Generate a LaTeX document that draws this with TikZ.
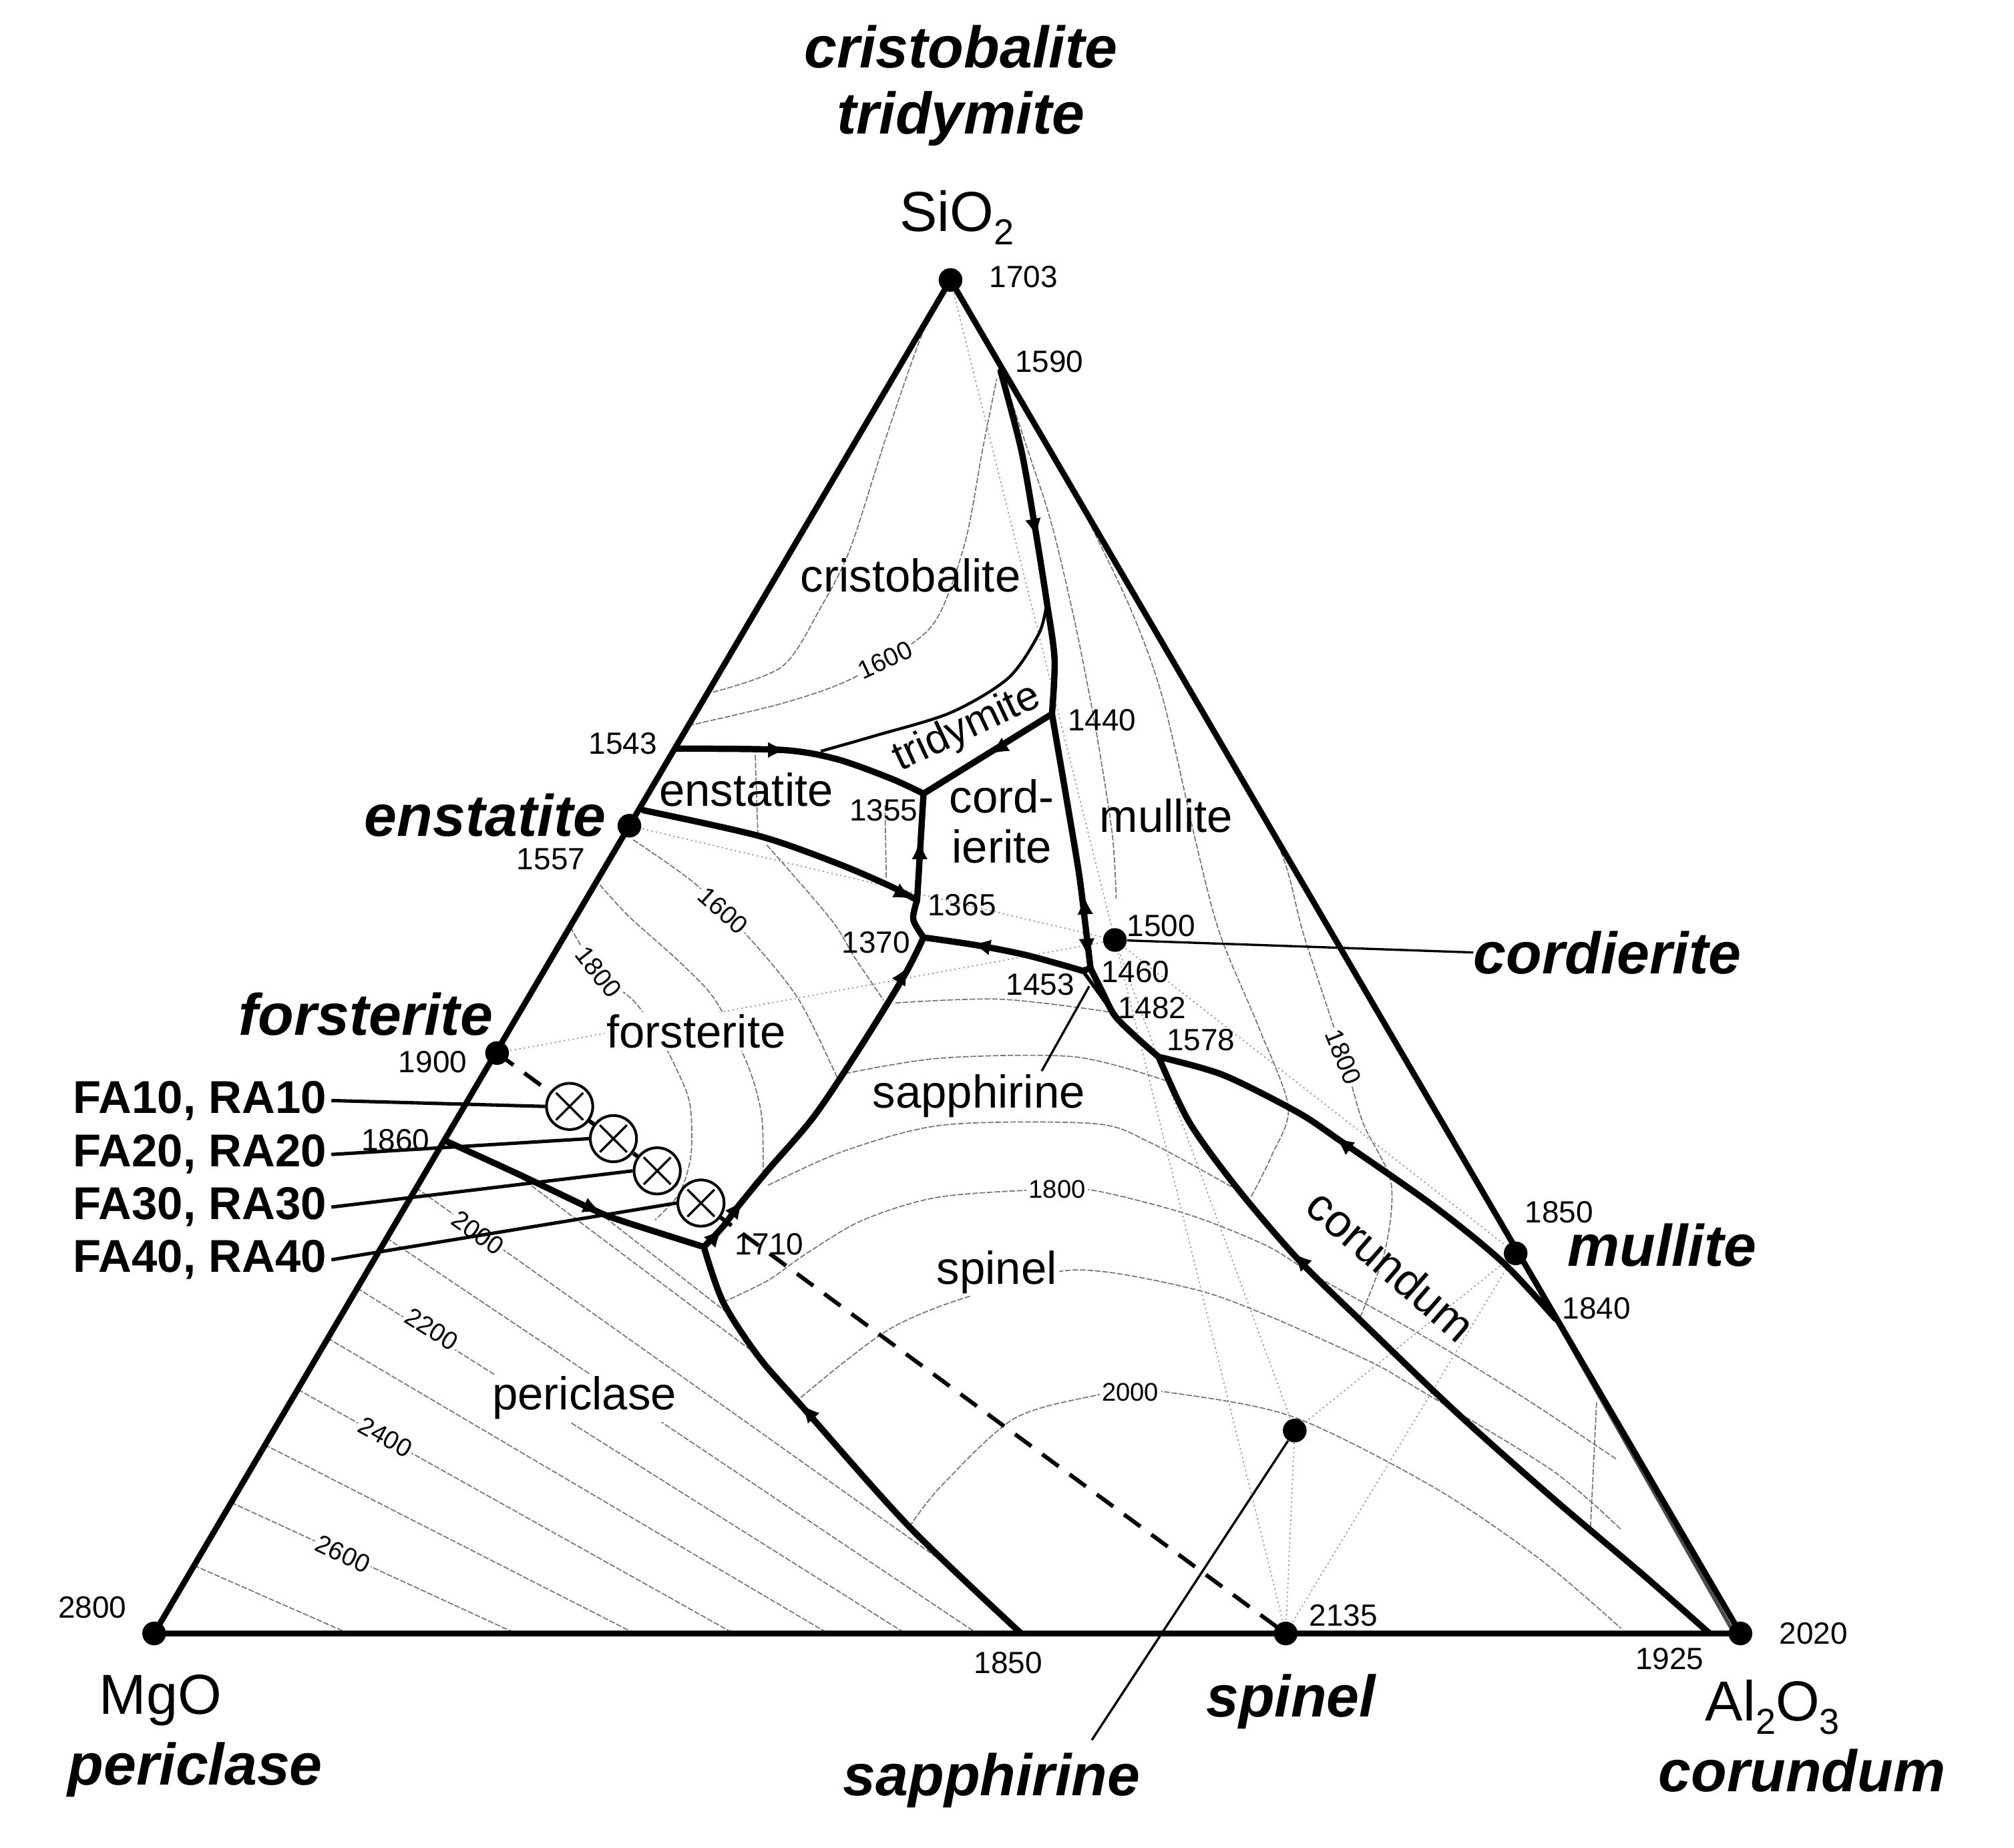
\documentclass[tikz,border=0pt]{standalone}
\usepackage{fontspec}
\setmainfont{Liberation Sans}
\usetikzlibrary{arrows.meta, calc}
\newcommand{\chemsub}[1]{\raisebox{-6pt}{\fontsize{16}{16}\selectfont #1}}

\begin{document}
\begin{tikzpicture}[
    x=0.02cm, y=-0.02cm,
    % Line styles
    tri/.style={line width=2.6pt, line join=round},
    bnd/.style={line width=2.8pt, line join=round, line cap=round},
    iso/.style={black!55, line width=0.5pt, dash pattern=on 2.5pt off 0.8pt},
    cjoin/.style={black!45, line width=0.5pt, dash pattern=on 0.6pt off 1.4pt},
    lead/.style={line width=1.5pt},
    arr/.style={line width=0.6pt, -{Latex[length=8pt,width=7pt]}},
    % Node styles
    sdot/.style={circle, fill=black, inner sep=0pt, minimum size=10.5pt},
    smp/.style={circle, draw, line width=1.2pt, fill=white, inner sep=0pt, minimum size=20.5pt,
        path picture={\draw[line width=1pt]
            ([shift={(-6pt,-6pt)}]path picture bounding box.center) -- ++(12pt,12pt)
            ([shift={(-6pt,6pt)}]path picture bounding box.center) -- ++(12pt,-12pt);}},
    tlab/.style={font=\fontsize{13.6}{14}\selectfont, inner sep=0pt},
    ilab/.style={font=\fontsize{11.3}{12}\selectfont, fill=white, inner sep=1pt},
    rlab/.style={font=\fontsize{20.4}{22}\selectfont, inner sep=1pt},
    plab/.style={font=\fontsize{26}{28}\selectfont\bfseries\itshape, inner sep=0pt},
    clab/.style={font=\fontsize{25}{27}\selectfont, inner sep=0pt},
    falab/.style={font=\fontsize{20.4}{22}\selectfont\bfseries, anchor=east, inner sep=2pt},
]

\path[fill=white] (0,0) rectangle (1568,1439);
\useasboundingbox (0,0) rectangle (1568,1439);

% ============================================================================
% POINTS
% ============================================================================
\coordinate (S) at (740,218);
\coordinate (M) at (120,1272);
\coordinate (A) at (1355,1272);
\coordinate (en) at (490,643);
\coordinate (fo) at (387,820);
\coordinate (cord) at (868,732);
\coordinate (mul) at (1180,976);
\coordinate (sp) at (1001,1272);
\coordinate (sapph) at (1008,1114);

\coordinate (p1543) at (527,583);
\coordinate (p1590) at (779,289);
\coordinate (p1440) at (819,556);
\coordinate (p1355) at (719,618);
\coordinate (p1365) at (714,701);
\coordinate (p1370) at (719,730);
\coordinate (p1453) at (843,756);
\coordinate (p1460) at (849,754);
\coordinate (p1482) at (868,791);
\coordinate (p1578) at (902,823);
\coordinate (p1860) at (346,888);
\coordinate (p1710) at (548,971);
\coordinate (p1850) at (795,1272);
\coordinate (p1925) at (1331,1272);
\coordinate (p1840) at (1211,1027);
\coordinate (penb) at (501,631);

% ============================================================================
% ISOTHERMS AND JOINS
% ============================================================================
% periclase field
\begin{scope}
\clip (M) -- (p1860) -- (488,952) -- (p1710) -- (563,1014) -- (591,1057) -- (626,1097) -- (708,1189) -- (p1850) -- cycle;
\foreach \xs/\ys/\sl in {151/1219/0.44, 180/1170/0.46, 206/1125/0.51, 232/1082/0.56, 255/1042/0.59,
    278/1003/0.63, 301/964/0.67, 324/925/0.71, 400/913/0.75, 462/941/0.78}
    \draw[iso] (\xs,\ys) -- ++(700,{700*\sl});
\end{scope}

% silica and enstatite fields
\draw[iso] plot[smooth] coordinates {(536,565) (608,548) (660,530) (713,499) (733,475) (752,420) (765,350) (776,295)};
\draw[iso] plot[smooth] coordinates {(555,539) (609,519) (639,473) (662,427) (690,340) (718,260) (736,228)};
\draw[iso] (588,588) -- (590,649);
\draw[iso] (689,627) -- (690,684);

% forsterite field
\draw[iso] plot[smooth] coordinates {(493,654) (541,688) (583,730) (621,777) (649,833) (653,842)};
\draw[iso] plot[smooth] coordinates {(467,689) (490,714) (529,749) (557,779) (582,829) (593,869) (594,915)};
\draw[iso] plot[smooth] coordinates {(444,722) (466,757) (493,779) (512,805) (525,829) (537,859)
    (538,899) (529,929) (510,950)};
\draw[iso] plot[smooth] coordinates {(597,658) (647,716) (665,745) (688,779)};

% spinel field
\draw[iso] plot[smooth] coordinates {(697,781) (777,778) (857,787) (p1482)};
\draw[iso] plot[smooth] coordinates {(658,836) (732,824) (837,823) (909,842)};
\draw[iso] plot[smooth] coordinates {(598,923) (658,896) (735,876) (852,875) (896,890) (962,926)};
\draw[iso] plot[smooth] coordinates {(563,1014) (598,997) (628,976) (672,950) (732,932) (823,926) (857,928)
    (926,946) (986,970) (1025,994) (1116,1045) (1192,1092) (1258,1136)};
\draw[iso] plot[smooth] coordinates {(619,1092) (658,1060) (696,1033) (747,1012) (835,989) (926,1003)
    (986,1024) (1066,1060) (1098,1078) (1207,1144) (1262,1191)};
\draw[iso] plot[smooth] coordinates {(708,1189) (732,1158) (789,1105) (851,1087) (880,1084) (908,1084)
    (1006,1103) (1116,1158) (1200,1215) (1262,1268)};

% mullite and corundum fields
\draw[iso] plot[smooth] coordinates {(780,290) (800,350) (819,409) (838,490) (854,573) (866,650) (869,700)};
\draw[iso] plot[smooth] coordinates {(834,379) (878,469) (905,543) (932,660) (950,728) (980,800)
    (1003,862) (990,900) (974,932)};
\draw[iso] plot[smooth] coordinates {(952,582) (997,663) (1015,728) (1046,823) (1061,874)
    (1083,921) (1078,975) (1057,1030)};
\draw[iso] (1243,1092) -- (1238,1195);

% compatibility joins
\foreach \a/\b in {S/cord, en/cord, fo/cord, sp/cord, sp/sapph, sp/mul, sapph/cord, sapph/mul, cord/mul}
    \draw[cjoin] (\a) -- (\b);

% ============================================================================
% FIELD BOUNDARIES
% ============================================================================
\draw[bnd] plot[smooth] coordinates {(p1543) (609,584) (651,591) (693,606) (p1355)};
\draw[line width=1.3pt] plot[smooth] coordinates {(639,585) (681,573) (740,555) (785,528) (809,493) (815,469)};
\draw[bnd] plot[smooth] coordinates {(p1590) (795,350) (806,412) (815,469) (821,513) (p1440)};
\draw[bnd] (p1440) -- (p1355);
\draw[bnd] (p1365) -- (p1355);
\draw[bnd] plot[smooth] coordinates {(penb) (591,651) (651,672) (693,690) (p1365)};
\draw[bnd] plot[smooth] coordinates {(p1365) (711,716) (p1370)};
\draw[bnd] plot[smooth] coordinates {(p1453) (800,744) (760,736) (p1370)};
\draw[bnd] plot[smooth] coordinates {(p1440) (830,620) (840,680) (845,720) (p1460)};
\draw[bnd] (p1453) -- (p1460);
\draw[bnd] plot[smooth] coordinates {(p1460) (858,772) (p1482) (885,808) (p1578)};
\draw[line width=1.6pt] plot[smooth] coordinates {(p1453) (856,774) (p1482)};
\draw[bnd] plot[smooth] coordinates {(p1710) (563,955) (575,939) (598,911)
    (634,869) (672,812) (705,758) (p1370)};
\draw[bnd] plot[smooth] coordinates {(p1860) (405,915) (464,943) (488,952) (p1710)};
\draw[bnd] plot[smooth] coordinates {(p1850) (708,1189) (626,1097) (591,1057) (563,1014) (p1710)};
\draw[bnd] plot[smooth] coordinates {(p1925) (1280,1227) (1207,1165) (1134,1100) (1061,1030)
    (1010,980) (963,925) (926,874) (p1578)};
\draw[bnd] plot[smooth] coordinates {(p1840) (1170,983) (1116,939) (1043,888) (1010,866)
    (952,837) (p1578)};
\draw[line width=1.6pt, black!70] (p1840) -- (1349,1270);

% flow directions
\foreach \ax/\ay/\bx/\by in {597/584/612/584, 804/403/807/418, 784/579/771/587, 716/670/716/655,
    697/693/710/700, 772/738/757/735, 845/713/844/698, 846/730/847/745, 552/968/562/957,
    569/947/578/935, 699/766/707/753, 454/938/468/944, 634/1105/624/1094, 1018/987/1007/976,
    1052/895/1040/886}
    \draw[arr] (\ax,\ay) -- (\bx,\by);

% triangle
\draw[tri] (S) -- (M) -- (A) -- cycle;

% forsterite - spinel join
\draw[line width=1.8pt, dash pattern=on 9pt off 6pt] (fo) -- (sp);

% ============================================================================
% DOTS AND SAMPLES
% ============================================================================
\foreach \p in {S, M, A, en, fo, cord, mul, sp, sapph}
    \node[sdot] (d\p) at (\p) {};

\foreach \k/\pos in {1/0.092, 2/0.1475, 3/0.203, 4/0.2585}
    \node[smp] (s\k) at ($(fo)!\pos!(sp)$) {};

% ============================================================================
% LABELS
% ============================================================================
% temperatures
\foreach \tv/\tx/\ty [count=\i] in {1703/770/224, 1590/790/290, 1543/458/587, 1557/402/677,
    1440/831/569, 1355/661/639, 1365/722/713, 1370/655/742, 1500/877/729, 1460/857/765,
    1453/783/775, 1482/870/793, 1578/908/818, 1900/310/835, 1860/281/896, 1710/572/977,
    1850/1187/952, 1840/1216/1027, 2135/1019/1266, 1850/758/1303, 1925/1273/1300,
    2020/1385/1280, 2800/45/1260}
    \node[tlab, anchor=base west] (t\i) at (\tx,\ty) {\tv};

% isotherm values
\node[ilab, rotate=25] (i1) at (689,514) {1600};
\node[ilab, rotate=-42] (i2) at (563,709) {1600};
\node[ilab, rotate=-52] (i3) at (466,757) {1800};
\node[ilab] (i4) at (823,926) {1800};
\node[ilab] (i5) at (880,1084) {2000};
\node[ilab, rotate=-68] (i6) at (1046,823) {1800};
\node[ilab, rotate=-35] (i7) at (372,960) {2000};
\node[ilab, rotate=-32] (i8) at (336,1035) {2200};
\node[ilab, rotate=-29] (i9) at (300,1119) {2400};
\node[ilab, rotate=-25] (i10) at (267,1210) {2600};

% primary fields
\node[rlab, anchor=base] (rcri) at (709,461) {cristobalite};
\node[rlab, rotate=25, inner sep=0pt, font=\fontsize{18.5}{20}\selectfont] (rtri) at (753,567) {tridymite};
\node[rlab, anchor=base] (ren) at (581,628) {enstatite};
\node[rlab, anchor=base] (rcorda) at (780,633) {cord-};
\node[rlab, anchor=base] (rcordb) at (780,672) {ierite};
\node[rlab, anchor=base] (rmul) at (908,648) {mullite};
\node[rlab, anchor=base, fill=white] (rfo) at (542,816) {forsterite};
\node[rlab, anchor=base, fill=white] (rsap) at (762,863) {sapphirine};
\node[rlab, anchor=base, fill=white] (rsp) at (776,1000) {spinel};
\node[rlab, anchor=base, fill=white] (rper) at (455,1098) {periclase};
\node[rlab, rotate=-41] (rcor) at (1083,985) {corundum};

% components and compounds
\node[plab, anchor=base] (tcri) at (748,53) {cristobalite};
\node[plab, anchor=base] (ttri) at (748,104) {tridymite};
\node[clab, anchor=base] (lsio) at (745,180) {SiO\chemsub{2}};
\node[clab, anchor=base] (lmgo) at (125,1335) {MgO};
\node[plab, anchor=base] (lper) at (152,1390) {periclase};
\node[clab, anchor=base] (lal) at (1380,1340) {Al\chemsub{2}O\chemsub{3}};
\node[plab, anchor=base] (lcor) at (1403,1395) {corundum};
\node[plab, anchor=base] (lsp) at (1005,1337) {spinel};
\node[plab, anchor=base] (lsap) at (772,1398) {sapphirine};
\node[plab, anchor=base east] (len) at (472,651) {enstatite};
\node[plab, anchor=base east] (lfo) at (384,806) {forsterite};
\node[plab, anchor=base west] (lcord) at (1147,758) {cordierite};
\node[plab, anchor=base west] (lmul) at (1220,986) {mullite};

% samples
\foreach \k/\y in {1/857, 2/899, 3/940, 4/981} {
    \node[falab] (fa\k) at (258,\y) {FA\k0, RA\k0};
    \draw[lead] (fa\k.east) -- (s\k.west);
}

% leaders
\coordinate (sapend) at (850,1355);
\coordinate (sapfoot) at (811,834);
\coordinate (sapfield) at (848,768);
\draw[line width=1pt] (dcord) -- (lcord.west);
\draw[line width=1pt] (dsapph) -- (sapend);
\draw[line width=1pt] (sapfoot) -- (sapfield);

\end{tikzpicture}
\end{document}
